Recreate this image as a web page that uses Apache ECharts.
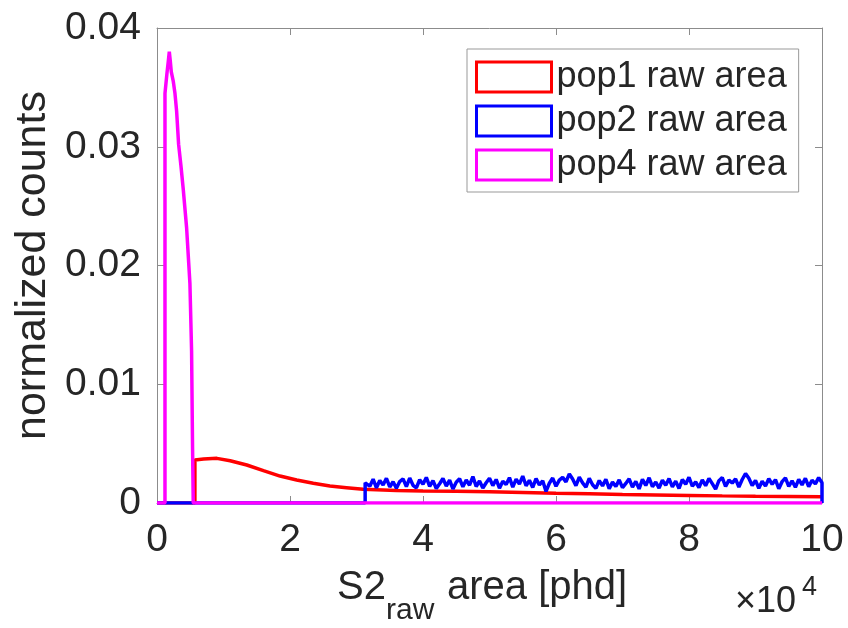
<!DOCTYPE html>
<html>
<head>
<meta charset="utf-8">
<title>normalized counts</title>
<script src="https://cdn.jsdelivr.net/npm/echarts@6/dist/echarts.min.js"></script>
<style>
  html, body { margin: 0; padding: 0; background: #fff; }
  #main { width: 848px; height: 628px; }
</style>
</head>
<body>
<div id="main"></div>
<script type="text/javascript">
// axis ticks
var xTicks = [0, 20000, 40000, 60000, 80000, 100000];
var yTicks = [0, 0.01, 0.02, 0.03, 0.04];

// pop1 raw area, [S2 area phd, normalized counts]
var pop1 = [[0, 0], [5700, 0], [5700, 0.00362], [7000, 0.0037], [9000, 0.00376], [11000, 0.00356],
  [13500, 0.0032], [16000, 0.00272], [18500, 0.00227], [21000, 0.00194], [23500, 0.00166],
  [26000, 0.00143], [28500, 0.00129], [31000, 0.00115], [36000, 0.00106], [40000, 0.00102],
  [45000, 0.00098], [50000, 0.00094], [55000, 0.00088], [60000, 0.00082], [65000, 0.00077],
  [70000, 0.00072], [75000, 0.00068], [80000, 0.00064], [85000, 0.0006], [90000, 0.00057],
  [95000, 0.00055], [100000, 0.00053]];

// pop2 raw area: flat zero, then noisy plateau in 500 phd bins
var pop2Head = [[0, 0], [31300, 0], [31300, 0.0017]];
var pop2Start = 31500, pop2Bin = 500;
var pop2Counts = [
  0.00185, 0.00142, 0.00201, 0.00128, 0.00190, 0.00151, 0.00208, 0.00135, 0.00179, 0.00124,
  0.00181, 0.00203, 0.00138, 0.00210, 0.00149, 0.00127, 0.00196, 0.00158, 0.00215, 0.00140,
  0.00188, 0.00122, 0.00162, 0.00206, 0.00143, 0.00192, 0.00118, 0.00175, 0.00204, 0.00136,
  0.00194, 0.00150, 0.00222, 0.00139, 0.00186, 0.00126, 0.00170, 0.00209, 0.00147, 0.00198,
  0.00125, 0.00183, 0.00155, 0.00213, 0.00134, 0.00201, 0.00160, 0.00226, 0.00145, 0.00191,
  0.00131, 0.00205, 0.00152, 0.00187, 0.00098, 0.00166, 0.00210, 0.00141, 0.00193, 0.00216,
  0.00178, 0.00245, 0.00202, 0.00146, 0.00218, 0.00169, 0.00133, 0.00207, 0.00154, 0.00123,
  0.00189, 0.00144, 0.00200, 0.00121, 0.00176, 0.00139, 0.00195, 0.00129, 0.00165, 0.00204,
  0.00134, 0.00182, 0.00119, 0.00199, 0.00148, 0.00212, 0.00137, 0.00177, 0.00126, 0.00192,
  0.00150, 0.00206, 0.00136, 0.00184, 0.00122, 0.00197, 0.00157, 0.00217, 0.00141, 0.00178,
  0.00130, 0.00195, 0.00146, 0.00207, 0.00163, 0.00117, 0.00188, 0.00214, 0.00139, 0.00193,
  0.00168, 0.00203, 0.00135, 0.00198, 0.00248, 0.00209, 0.00147, 0.00190, 0.00124, 0.00183,
  0.00144, 0.00205, 0.00158, 0.00196, 0.00121, 0.00180, 0.00211, 0.00140, 0.00187, 0.00132,
  0.00199, 0.00153, 0.00208, 0.00137, 0.00192, 0.00161, 0.00214];
var pop2Tail = [[100000, 0.0017], [100000, 0]];

// pop4 raw area
var pop4 = [[0, 0], [1200, 0], [1200, 0.0345], [1500, 0.0362], [1700, 0.0372], [1850, 0.038],
  [2000, 0.0372], [2150, 0.0363], [2450, 0.0355], [2700, 0.0345], [2950, 0.033], [3250, 0.0302],
  [3600, 0.0284], [3950, 0.0264], [4450, 0.0232], [4950, 0.0185], [5200, 0.0128], [5350, 0.0045],
  [5450, 0], [100000, 0]];

var names = ['pop1 raw area', 'pop2 raw area', 'pop4 raw area'];
var colors = ['#ff0000', '#0000ff', '#ff00ff'];

var pop2 = pop2Head.slice();
for (var i = 0; i < pop2Counts.length; i++) {
  pop2.push([pop2Start + i * pop2Bin, pop2Counts[i]]);
}
pop2 = pop2.concat(pop2Tail);

var txt = '#262626';
var axCol = '#8c8c8c';
var font = 'Liberation Sans, Arial, Helvetica, sans-serif';

var myChart = echarts.init(document.getElementById('main'), null, { renderer: 'canvas' });

function valAxis(extra) {
  var base = {
    type: 'value',
    splitLine: { show: false },
    axisLine: { show: true, onZero: false, lineStyle: { color: axCol, width: 1 } },
    axisTick: { show: true, inside: true, length: 7, lineStyle: { color: axCol } },
    axisLabel: { color: txt, fontSize: 39, fontFamily: font }
  };
  for (var k in extra) base[k] = extra[k];
  return base;
}

var option = {
  animation: false,
  backgroundColor: '#fff',
  grid: { left: 157, right: 26, top: 28, bottom: 125 },
  legend: {
    orient: 'vertical',
    left: 467,
    top: 49,
    padding: [10, 12, 9, 8],
    itemWidth: 75,
    itemHeight: 30,
    itemGap: 8,
    backgroundColor: '#fff',
    borderColor: '#999',
    borderWidth: 1,
    borderRadius: 0,
    icon: 'rect',
    textStyle: { color: txt, fontSize: 36, fontFamily: font },
    data: names.map(function (n, i) {
      return { name: n, itemStyle: { color: '#fff', borderColor: colors[i], borderWidth: 3 } };
    })
  },
  xAxis: [
    valAxis({
      min: 0, max: 100000, interval: 20000,
      axisLabel: {
        color: txt, fontSize: 39, fontFamily: font, margin: 18,
        formatter: function (v) { return xTicks.indexOf(v) >= 0 ? String(v / 10000) : ''; }
      }
    }),
    valAxis({ position: 'top', min: 0, max: 100000, interval: 20000, axisLabel: { show: false } })
  ],
  yAxis: [
    valAxis({
      min: 0, max: 0.04, interval: 0.01,
      name: 'normalized counts',
      nameLocation: 'middle',
      nameGap: 97,
      nameTextStyle: { color: txt, fontSize: 43, fontFamily: font },
      axisLabel: {
        color: txt, fontSize: 39, fontFamily: font, margin: 16,
        formatter: function (v) { return yTicks.indexOf(v) >= 0 ? String(v) : ''; }
      }
    }),
    valAxis({ position: 'right', min: 0, max: 0.04, interval: 0.01, axisLabel: { show: false } })
  ],
  graphic: [
    { type: 'text', left: 337, top: 568, style: { text: 'S2', fill: txt, font: '40px ' + font } },
    { type: 'text', left: 386, top: 596, style: { text: 'raw', fill: txt, font: '30px ' + font } },
    { type: 'text', left: 447, top: 568, style: { text: 'area [phd]', fill: txt, font: '40px ' + font } },
    { type: 'text', left: 735, top: 584, style: { text: '\u00d710', fill: txt, font: '36px ' + font } },
    { type: 'text', left: 802, top: 574, style: { text: '4', fill: txt, font: '27px ' + font } }
  ],
  series: [
    { name: names[0], type: 'line', data: pop1, showSymbol: false, symbol: 'none',
      lineStyle: { color: colors[0], width: 3.5 }, itemStyle: { color: colors[0] } },
    { name: names[1], type: 'line', data: pop2, showSymbol: false, symbol: 'none',
      lineStyle: { color: colors[1], width: 3.5 }, itemStyle: { color: colors[1] } },
    { name: names[2], type: 'line', data: pop4, showSymbol: false, symbol: 'none',
      lineStyle: { color: colors[2], width: 3.5 }, itemStyle: { color: colors[2] } }
  ]
};

myChart.setOption(option);
</script>
</body>
</html>
